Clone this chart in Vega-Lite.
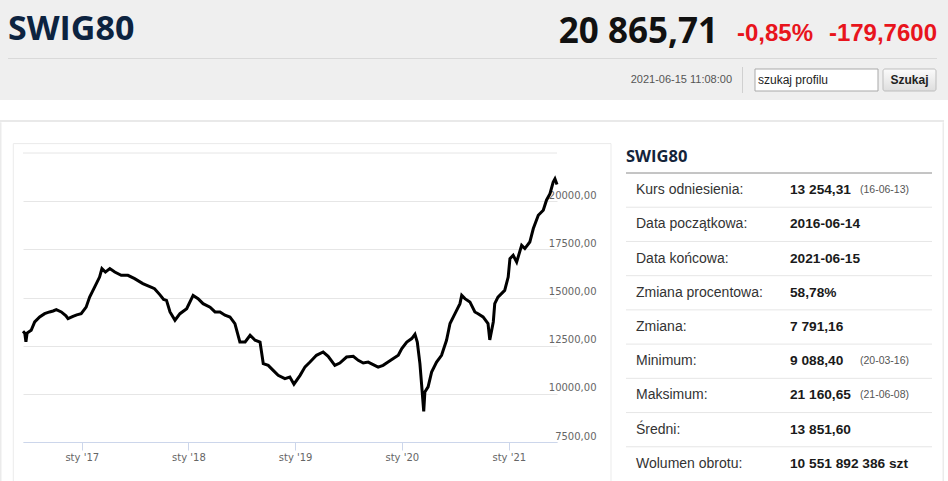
{
  "$schema": "https://vega.github.io/schema/vega-lite/v6.json",
  "padding": 0,
  "background": "#ffffff",
  "config": {"view": {"stroke": null}},
  "spacing": 0,
  "vconcat": [
    {
      "width": 925,
      "height": 122,
      "resolve": {"scale": {"x": "independent", "y": "independent"}},
      "layer": [
        {
          "data": {"values": [{"part": "band"}]},
          "mark": {"type": "rect", "color": "#efefef"},
          "encoding": {
            "x": {"field": "part", "type": "nominal", "scale": {"type": "band", "range": [-23, 925], "paddingInner": 0, "paddingOuter": 0}, "axis": null},
            "y": {"field": "part", "type": "nominal", "scale": {"type": "band", "range": [0, 100], "paddingInner": 0, "paddingOuter": 0}, "axis": null}
          }
        },
        {
          "data": {"values": [{"part": "rule"}]},
          "mark": {"type": "rect", "color": "#d9d9d9"},
          "encoding": {
            "x": {"field": "part", "type": "nominal", "scale": {"type": "band", "range": [-15, 914], "paddingInner": 0, "paddingOuter": 0}, "axis": null},
            "y": {"field": "part", "type": "nominal", "scale": {"type": "band", "range": [58, 59], "paddingInner": 0, "paddingOuter": 0}, "axis": null}
          }
        },
        {
          "data": {"values": [{"part": "frame"}]},
          "mark": {"type": "rect", "color": "#e9e9e9"},
          "encoding": {
            "x": {"field": "part", "type": "nominal", "scale": {"type": "band", "range": [-23, 921], "paddingInner": 0, "paddingOuter": 0}, "axis": null},
            "y": {"field": "part", "type": "nominal", "scale": {"type": "band", "range": [120, 122], "paddingInner": 0, "paddingOuter": 0}, "axis": null}
          }
        },
        {
          "data": {"values": [{"part": "divider"}]},
          "mark": {"type": "rect", "color": "#d0d0d0"},
          "encoding": {
            "x": {"field": "part", "type": "nominal", "scale": {"type": "band", "range": [719, 720], "paddingInner": 0, "paddingOuter": 0}, "axis": null},
            "y": {"field": "part", "type": "nominal", "scale": {"type": "band", "range": [67, 93], "paddingInner": 0, "paddingOuter": 0}, "axis": null}
          }
        },
        {
          "data": {"values": [{"part": "input"}]},
          "mark": {"type": "rect", "fill": "#ffffff", "stroke": "#a9a9a9", "strokeWidth": 1},
          "encoding": {
            "x": {"field": "part", "type": "nominal", "scale": {"type": "band", "range": [732, 855], "paddingInner": 0, "paddingOuter": 0}, "axis": null},
            "y": {"field": "part", "type": "nominal", "scale": {"type": "band", "range": [69, 91], "paddingInner": 0, "paddingOuter": 0}, "axis": null}
          }
        },
        {
          "data": {"values": [{"part": "button"}]},
          "mark": {
            "type": "rect",
            "stroke": "#bdbdbd",
            "strokeWidth": 1,
            "cornerRadius": 2,
            "fill": {"gradient": "linear", "x1": 0, "y1": 0, "x2": 0, "y2": 1, "stops": [{"offset": 0, "color": "#fbfbfb"}, {"offset": 1, "color": "#dedede"}]}
          },
          "encoding": {
            "x": {"field": "part", "type": "nominal", "scale": {"type": "band", "range": [860, 913], "paddingInner": 0, "paddingOuter": 0}, "axis": null},
            "y": {"field": "part", "type": "nominal", "scale": {"type": "band", "range": [69, 91], "paddingInner": 0, "paddingOuter": 0}, "axis": null}
          }
        },
        {
          "data": {"values": [{"part": "name", "label": "SWIG80"}]},
          "mark": {"type": "text", "align": "left", "baseline": "middle", "font": "Open Sans", "fontWeight": "bold", "fontSize": 34, "color": "#0c2340"},
          "encoding": {
            "x": {"field": "part", "type": "nominal", "scale": {"type": "point", "range": [-15, -15], "padding": 0}, "axis": null},
            "y": {"field": "part", "type": "nominal", "scale": {"type": "point", "range": [30, 30], "padding": 0}, "axis": null},
            "text": {"field": "label"}
          }
        },
        {
          "data": {"values": [{"part": "price", "label": "20 865,71"}]},
          "mark": {"type": "text", "align": "right", "baseline": "middle", "font": "Open Sans", "fontWeight": "bold", "fontSize": 35, "color": "#111111"},
          "encoding": {
            "x": {"field": "part", "type": "nominal", "scale": {"type": "point", "range": [695, 695], "padding": 0}, "axis": null},
            "y": {"field": "part", "type": "nominal", "scale": {"type": "point", "range": [32, 32], "padding": 0}, "axis": null},
            "text": {"field": "label"}
          }
        },
        {
          "data": {"values": [{"part": "pct", "label": "-0,85%"}, {"part": "chg", "label": "-179,7600"}]},
          "mark": {"type": "text", "align": "right", "baseline": "middle", "font": "Liberation Sans", "fontWeight": "bold", "fontSize": 24, "color": "#e8141c"},
          "encoding": {
            "x": {"field": "part", "type": "nominal", "sort": null, "scale": {"type": "point", "range": [790, 914], "padding": 0}, "axis": null},
            "y": {"field": "part", "type": "nominal", "scale": {"type": "point", "range": [34, 34], "padding": 0}, "axis": null},
            "text": {"field": "label"}
          }
        },
        {
          "data": {"values": [{"part": "stamp", "label": "2021-06-15 11:08:00"}]},
          "mark": {"type": "text", "align": "right", "baseline": "middle", "font": "Liberation Sans", "fontSize": 11, "color": "#555555"},
          "encoding": {
            "x": {"field": "part", "type": "nominal", "scale": {"type": "point", "range": [709, 709], "padding": 0}, "axis": null},
            "y": {"field": "part", "type": "nominal", "scale": {"type": "point", "range": [80, 80], "padding": 0}, "axis": null},
            "text": {"field": "label"}
          }
        },
        {
          "data": {"values": [{"part": "query", "label": "szukaj profilu"}]},
          "mark": {"type": "text", "align": "left", "baseline": "middle", "font": "Liberation Sans", "fontSize": 12, "color": "#222222"},
          "encoding": {
            "x": {"field": "part", "type": "nominal", "scale": {"type": "point", "range": [735, 735], "padding": 0}, "axis": null},
            "y": {"field": "part", "type": "nominal", "scale": {"type": "point", "range": [80, 80], "padding": 0}, "axis": null},
            "text": {"field": "label"}
          }
        },
        {
          "data": {"values": [{"part": "go", "label": "Szukaj"}]},
          "mark": {"type": "text", "align": "center", "baseline": "middle", "font": "Liberation Sans", "fontWeight": "bold", "fontSize": 12, "color": "#222222"},
          "encoding": {
            "x": {"field": "part", "type": "nominal", "scale": {"type": "point", "range": [886.5, 886.5], "padding": 0}, "axis": null},
            "y": {"field": "part", "type": "nominal", "scale": {"type": "point", "range": [80, 80], "padding": 0}, "axis": null},
            "text": {"field": "label"}
          }
        }
      ]
    },
    {
      "spacing": 13,
      "hconcat": [
        {
          "width": 534,
          "height": 289,
          "resolve": {"scale": {"x": "independent", "y": "independent"}},
          "layer": [
            {
              "data": {"values": [{"part": "edge"}]},
              "mark": {"type": "rect", "color": "#ebebeb"},
              "encoding": {
                "x": {"field": "part", "type": "nominal", "scale": {"type": "band", "range": [-23, -21.5], "paddingInner": 0, "paddingOuter": 0}, "axis": null},
                "y": {"field": "part", "type": "nominal", "scale": {"type": "band", "range": [-30.7, 328.3], "paddingInner": 0, "paddingOuter": 0}, "axis": null}
              }
            },
            {
              "data": {"values": [{"part": "panel"}]},
              "mark": {"type": "rect", "filled": false, "color": "#ebebeb", "strokeWidth": 1},
              "encoding": {
                "x": {"field": "part", "type": "nominal", "scale": {"type": "band", "range": [-9.7, 588], "paddingInner": 0, "paddingOuter": 0}, "axis": null},
                "y": {"field": "part", "type": "nominal", "scale": {"type": "band", "range": [-9.4, 334], "paddingInner": 0, "paddingOuter": 0}, "axis": null}
              }
            },
            {
              "data": {"values": [{}]},
              "mark": {"type": "rule", "color": "#e6e6e6"},
              "encoding": {"y": {"datum": 22500, "type": "quantitative", "scale": {"domain": [7500, 22500], "nice": false, "zero": false}, "axis": null}}
            },
            {
              "data": {
                "values": [
                  {"date": "2016-06-14", "close": 13250},
                  {"date": "2016-06-20", "close": 13150},
                  {"date": "2016-06-24", "close": 12700},
                  {"date": "2016-06-28", "close": 13150},
                  {"date": "2016-07-12", "close": 13300},
                  {"date": "2016-07-24", "close": 13730},
                  {"date": "2016-08-10", "close": 13990},
                  {"date": "2016-08-27", "close": 14160},
                  {"date": "2016-09-13", "close": 14250},
                  {"date": "2016-09-25", "close": 14300},
                  {"date": "2016-10-06", "close": 14370},
                  {"date": "2016-10-23", "close": 14250},
                  {"date": "2016-11-08", "close": 14050},
                  {"date": "2016-11-15", "close": 13900},
                  {"date": "2016-12-02", "close": 14020},
                  {"date": "2016-12-15", "close": 14100},
                  {"date": "2016-12-30", "close": 14160},
                  {"date": "2017-01-16", "close": 14500},
                  {"date": "2017-01-28", "close": 15020},
                  {"date": "2017-02-14", "close": 15540},
                  {"date": "2017-03-03", "close": 16060},
                  {"date": "2017-03-11", "close": 16500},
                  {"date": "2017-03-23", "close": 16320},
                  {"date": "2017-04-07", "close": 16500},
                  {"date": "2017-04-24", "close": 16320},
                  {"date": "2017-05-16", "close": 16150},
                  {"date": "2017-06-08", "close": 16150},
                  {"date": "2017-07-01", "close": 15980},
                  {"date": "2017-07-29", "close": 15720},
                  {"date": "2017-08-26", "close": 15540},
                  {"date": "2017-09-07", "close": 15460},
                  {"date": "2017-09-25", "close": 15150},
                  {"date": "2017-10-08", "close": 14900},
                  {"date": "2017-10-18", "close": 14850},
                  {"date": "2017-10-30", "close": 14250},
                  {"date": "2017-11-16", "close": 13820},
                  {"date": "2017-12-03", "close": 14160},
                  {"date": "2017-12-26", "close": 14420},
                  {"date": "2018-01-17", "close": 15110},
                  {"date": "2018-02-03", "close": 14940},
                  {"date": "2018-02-20", "close": 14680},
                  {"date": "2018-03-16", "close": 14500},
                  {"date": "2018-04-02", "close": 14250},
                  {"date": "2018-04-19", "close": 14250},
                  {"date": "2018-05-06", "close": 14080},
                  {"date": "2018-05-23", "close": 13990},
                  {"date": "2018-06-09", "close": 13640},
                  {"date": "2018-06-26", "close": 12690},
                  {"date": "2018-07-14", "close": 12690},
                  {"date": "2018-07-31", "close": 13040},
                  {"date": "2018-08-17", "close": 12780},
                  {"date": "2018-09-03", "close": 12690},
                  {"date": "2018-09-14", "close": 11570},
                  {"date": "2018-10-01", "close": 11480},
                  {"date": "2018-10-18", "close": 11220},
                  {"date": "2018-11-04", "close": 10960},
                  {"date": "2018-11-27", "close": 10790},
                  {"date": "2018-12-14", "close": 10870},
                  {"date": "2018-12-28", "close": 10500},
                  {"date": "2019-01-18", "close": 10960},
                  {"date": "2019-02-04", "close": 11400},
                  {"date": "2019-02-21", "close": 11650},
                  {"date": "2019-03-15", "close": 12000},
                  {"date": "2019-04-07", "close": 12170},
                  {"date": "2019-04-24", "close": 11950},
                  {"date": "2019-05-17", "close": 11480},
                  {"date": "2019-06-03", "close": 11600},
                  {"date": "2019-06-26", "close": 11910},
                  {"date": "2019-07-19", "close": 11950},
                  {"date": "2019-08-05", "close": 11740},
                  {"date": "2019-08-22", "close": 11600},
                  {"date": "2019-09-08", "close": 11650},
                  {"date": "2019-09-25", "close": 11520},
                  {"date": "2019-10-12", "close": 11390},
                  {"date": "2019-10-29", "close": 11480},
                  {"date": "2019-11-15", "close": 11650},
                  {"date": "2019-12-03", "close": 11830},
                  {"date": "2019-12-20", "close": 12000},
                  {"date": "2020-01-01", "close": 12350},
                  {"date": "2020-01-18", "close": 12690},
                  {"date": "2020-02-04", "close": 12870},
                  {"date": "2020-02-15", "close": 13090},
                  {"date": "2020-02-23", "close": 12690},
                  {"date": "2020-03-03", "close": 11570},
                  {"date": "2020-03-09", "close": 10440},
                  {"date": "2020-03-16", "close": 9088},
                  {"date": "2020-03-20", "close": 10100},
                  {"date": "2020-03-31", "close": 10360},
                  {"date": "2020-04-12", "close": 11130},
                  {"date": "2020-04-29", "close": 11650},
                  {"date": "2020-05-16", "close": 12000},
                  {"date": "2020-06-02", "close": 12780},
                  {"date": "2020-06-14", "close": 13650},
                  {"date": "2020-07-01", "close": 14160},
                  {"date": "2020-07-18", "close": 14680},
                  {"date": "2020-07-24", "close": 15110},
                  {"date": "2020-08-04", "close": 14940},
                  {"date": "2020-08-21", "close": 14770},
                  {"date": "2020-09-07", "close": 14250},
                  {"date": "2020-09-18", "close": 14160},
                  {"date": "2020-10-05", "close": 13990},
                  {"date": "2020-10-22", "close": 13650},
                  {"date": "2020-10-28", "close": 12800},
                  {"date": "2020-11-09", "close": 13730},
                  {"date": "2020-11-14", "close": 14680},
                  {"date": "2020-11-25", "close": 15020},
                  {"date": "2020-12-18", "close": 15370},
                  {"date": "2020-12-30", "close": 16060},
                  {"date": "2021-01-05", "close": 17020},
                  {"date": "2021-01-16", "close": 17190},
                  {"date": "2021-01-28", "close": 16840},
                  {"date": "2021-02-14", "close": 17710},
                  {"date": "2021-02-25", "close": 17540},
                  {"date": "2021-03-14", "close": 17880},
                  {"date": "2021-03-26", "close": 18580},
                  {"date": "2021-04-12", "close": 19270},
                  {"date": "2021-04-29", "close": 19530},
                  {"date": "2021-05-10", "close": 20050},
                  {"date": "2021-05-22", "close": 20390},
                  {"date": "2021-06-02", "close": 20990},
                  {"date": "2021-06-08", "close": 21160},
                  {"date": "2021-06-15", "close": 20866}
                ]
              },
              "mark": {"type": "line", "color": "#000000", "strokeWidth": 3},
              "encoding": {
                "x": {
                  "field": "date",
                  "type": "temporal",
                  "scale": {"type": "utc", "nice": false},
                  "axis": {
                    "title": null,
                    "grid": false,
                    "tickCount": "year",
                    "labelExpr": "'sty \\'' + utcFormat(datum.value, '%y')",
                    "domainColor": "#ccd6eb",
                    "tickColor": "#ccd6eb",
                    "tickSize": 8,
                    "labelPadding": 2,
                    "labelColor": "#666666",
                    "labelFont": "DejaVu Sans",
                    "labelFontSize": 10,
                    "labelFlush": false
                  }
                },
                "y": {
                  "field": "close",
                  "type": "quantitative",
                  "scale": {"domain": [7500, 22500], "nice": false, "zero": false},
                  "axis": {
                    "orient": "right",
                    "title": null,
                    "values": [7500, 10000, 12500, 15000, 17500, 20000],
                    "grid": true,
                    "gridColor": "#e6e6e6",
                    "domain": false,
                    "ticks": false,
                    "tickSize": 0,
                    "labelAlign": "right",
                    "labelBaseline": "middle",
                    "labelPadding": 39,
                    "labelOffset": -6,
                    "labelColor": "#666666",
                    "labelFont": "DejaVu Sans",
                    "labelFontSize": 10,
                    "labelExpr": "replace(format(datum.value, '.2f'), '.', ',')"
                  }
                }
              }
            }
          ]
        },
        {
          "width": 306,
          "height": 328,
          "resolve": {"scale": {"x": "independent", "y": "independent"}},
          "layer": [
            {
              "data": {"values": [{"part": "edge"}]},
              "mark": {"type": "rect", "color": "#ebebeb"},
              "encoding": {
                "x": {"field": "part", "type": "nominal", "scale": {"type": "band", "range": [316.5, 318], "paddingInner": 0, "paddingOuter": 0}, "axis": null},
                "y": {"field": "part", "type": "nominal", "scale": {"type": "band", "range": [-30.7, 328], "paddingInner": 0, "paddingOuter": 0}, "axis": null}
              }
            },
            {
              "data": {"values": [{"part": "head", "label": "SWIG80"}]},
              "mark": {"type": "text", "align": "left", "baseline": "middle", "font": "Open Sans", "fontSize": 16.5, "fontWeight": "bold", "color": "#14243a"},
              "encoding": {
                "x": {"field": "part", "type": "nominal", "scale": {"type": "point", "range": [0, 0], "padding": 0}, "axis": null},
                "y": {"field": "part", "type": "nominal", "scale": {"type": "point", "range": [3.5, 3.5], "padding": 0}, "axis": null},
                "text": {"field": "label"}
              }
            },
            {
              "data": {"name": "stats"},
              "mark": {"type": "rule", "strokeWidth": 1},
              "encoding": {
                "y": {"field": "k", "type": "nominal", "sort": null, "bandPosition": 0, "scale": {"type": "band", "range": [20, 328], "paddingInner": 0, "paddingOuter": 0}, "axis": null},
                "color": {"condition": {"test": "datum.k === 'Kurs odniesienia:'", "value": "#8a8a8a"}, "value": "#e6e6e6"}
              }
            },
            {
              "data": {"name": "stats"},
              "mark": {"type": "text", "align": "left", "baseline": "middle", "font": "Liberation Sans", "fontSize": 14, "color": "#333333"},
              "encoding": {
                "x": {"field": "k", "type": "nominal", "sort": null, "scale": {"type": "point", "range": [10, 10], "padding": 0}, "axis": null},
                "y": {"field": "k", "type": "nominal", "sort": null, "scale": {"type": "band", "range": [20, 328], "paddingInner": 0, "paddingOuter": 0}, "axis": null},
                "text": {"field": "k"}
              }
            },
            {
              "data": {"name": "stats"},
              "mark": {"type": "text", "align": "left", "baseline": "middle", "font": "Liberation Sans", "fontSize": 13.7, "fontWeight": "bold", "color": "#1a1a1a"},
              "encoding": {
                "x": {"field": "k", "type": "nominal", "sort": null, "scale": {"type": "point", "range": [164, 164], "padding": 0}, "axis": null},
                "y": {"field": "k", "type": "nominal", "sort": null, "scale": {"type": "band", "range": [20, 328], "paddingInner": 0, "paddingOuter": 0}, "axis": null},
                "text": {"field": "v"}
              }
            },
            {
              "data": {"name": "stats"},
              "mark": {"type": "text", "align": "left", "baseline": "middle", "font": "Liberation Sans", "fontSize": 10.5, "color": "#555555"},
              "encoding": {
                "x": {"field": "k", "type": "nominal", "sort": null, "scale": {"type": "point", "range": [234, 234], "padding": 0}, "axis": null},
                "y": {"field": "k", "type": "nominal", "sort": null, "scale": {"type": "band", "range": [20, 328], "paddingInner": 0, "paddingOuter": 0}, "axis": null},
                "text": {"field": "n"}
              }
            }
          ]
        }
      ]
    }
  ],
  "datasets": {
    "stats": [
      {"k": "Kurs odniesienia:", "v": "13 254,31", "n": "(16-06-13)"},
      {"k": "Data początkowa:", "v": "2016-06-14", "n": ""},
      {"k": "Data końcowa:", "v": "2021-06-15", "n": ""},
      {"k": "Zmiana procentowa:", "v": "58,78%", "n": ""},
      {"k": "Zmiana:", "v": "7 791,16", "n": ""},
      {"k": "Minimum:", "v": "9 088,40", "n": "(20-03-16)"},
      {"k": "Maksimum:", "v": "21 160,65", "n": "(21-06-08)"},
      {"k": "Średni:", "v": "13 851,60", "n": ""},
      {"k": "Wolumen obrotu:", "v": "10 551 892 386 szt", "n": ""}
    ]
  }
}
